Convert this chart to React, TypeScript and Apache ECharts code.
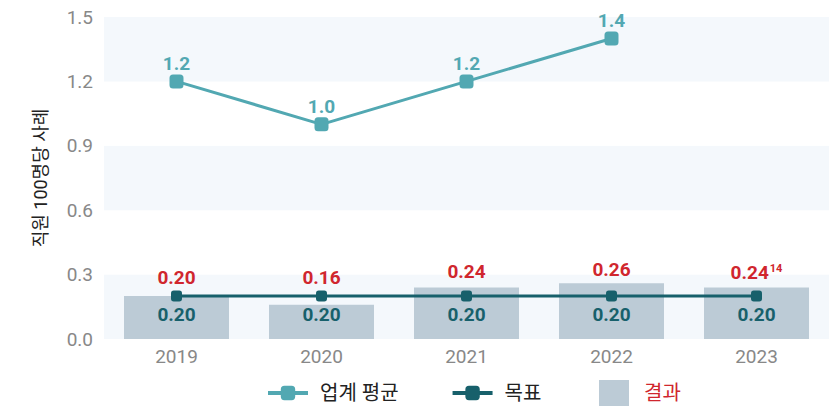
import React, { useEffect, useRef } from "react";
import * as echarts from "echarts";

const years = ["2019", "2020", "2021", "2022", "2023"];
const industryAvg: (number | null)[] = [1.2, 1.0, 1.2, 1.4, null];
const targetValues = [0.2, 0.2, 0.2, 0.2, 0.2];
const resultValues = [0.2, 0.16, 0.24, 0.26, 0.24];
const resultNotes = ["", "", "", "", "14"];
const yTicks = { min: 0, max: 1.5, interval: 0.3 };

const FONT = "Roboto, 'Noto Sans CJK KR', sans-serif";
const TEAL = "#52a8b2";
const DARK = "#17606b";
const RED = "#d0262e";
const BAR = "#bccbd6";

export default function App() {
  const ref = useRef<HTMLDivElement>(null);
  useEffect(() => {
    if (!ref.current) return;
    const chart = echarts.init(ref.current, null, { renderer: "svg" });
    const labelDist = [9, 18, 6, 4, 5];
    chart.setOption({
      animation: false,
      textStyle: { fontFamily: FONT },
      grid: { left: 104, right: 4, top: 17, bottom: 67 },
      legend: [
        {
          data: ["업계 평균", "목표"],
          left: 266,
          top: 383,
          padding: 0,
          itemWidth: 40,
          itemHeight: 18,
          itemGap: 52,
          lineStyle: { width: 4 },
          textStyle: { fontSize: 20, color: "#222", fontFamily: FONT, padding: [0, 0, 0, 7] },
        },
        {
          data: [{ name: "결과", icon: "rect" }],
          left: 599,
          top: 380,
          padding: 0,
          itemWidth: 30,
          itemHeight: 26,
          textStyle: { fontSize: 20, color: RED, fontFamily: FONT, padding: [0, 0, 0, 10] },
        },
      ],
      xAxis: {
        type: "category",
        data: years,
        axisLine: { show: false },
        axisTick: { show: false },
        axisLabel: { color: "#888", fontSize: 19, margin: 8, fontFamily: FONT },
      },
      yAxis: {
        type: "value",
        min: yTicks.min,
        max: yTicks.max,
        interval: yTicks.interval,
        name: "직원 100명당 사례",
        nameLocation: "middle",
        nameGap: 55,
        nameTextStyle: { fontSize: 18, color: "#222", fontFamily: FONT },
        axisLabel: {
          color: "#888",
          fontSize: 19,
          margin: 11,
          fontFamily: FONT,
          formatter: (v: number) => v.toFixed(1),
        },
        splitLine: { show: false },
        splitArea: { show: true, areaStyle: { color: ["#f4f8fc", "#ffffff"] } },
      },
      series: [
        {
          name: "결과",
          type: "bar",
          barWidth: 105,
          itemStyle: { color: BAR },
          data: resultValues.map((v, i) => ({
            value: v,
            label: {
              show: true,
              position: "top",
              distance: labelDist[i],
              formatter: resultNotes[i] ? `{v|${v.toFixed(2)}}{s|${resultNotes[i]}}` : `{v|${v.toFixed(2)}}`,
              rich: {
                v: { color: RED, fontSize: 19, fontWeight: "bold", fontFamily: FONT },
                s: { color: RED, fontSize: 11, fontWeight: "bold", fontFamily: FONT, verticalAlign: "top", padding: [0, 0, 8, 1] },
              },
            },
          })),
          z: 1,
        },
        {
          name: "업계 평균",
          type: "line",
          data: industryAvg,
          symbol: "roundRect",
          symbolSize: 14,
          lineStyle: { color: TEAL, width: 3 },
          itemStyle: { color: TEAL },
          label: {
            show: true,
            position: "top",
            distance: 1,
            color: TEAL,
            fontSize: 19,
            fontWeight: "bold",
            fontFamily: FONT,
            formatter: (p: any) => Number(p.value).toFixed(1),
          },
          z: 3,
        },
        {
          name: "목표",
          type: "line",
          data: targetValues,
          symbol: "roundRect",
          symbolSize: 11,
          lineStyle: { color: DARK, width: 3 },
          itemStyle: { color: DARK },
          label: {
            show: true,
            position: "bottom",
            distance: 3,
            color: DARK,
            fontSize: 19,
            fontWeight: "bold",
            fontFamily: FONT,
            formatter: (p: any) => Number(p.value).toFixed(2),
          },
          z: 4,
        },
      ],
    });
    return () => chart.dispose();
  }, []);
  return <div ref={ref} style={{ width: 833, height: 406, position: "absolute", left: 0, top: 0 }} />;
}
